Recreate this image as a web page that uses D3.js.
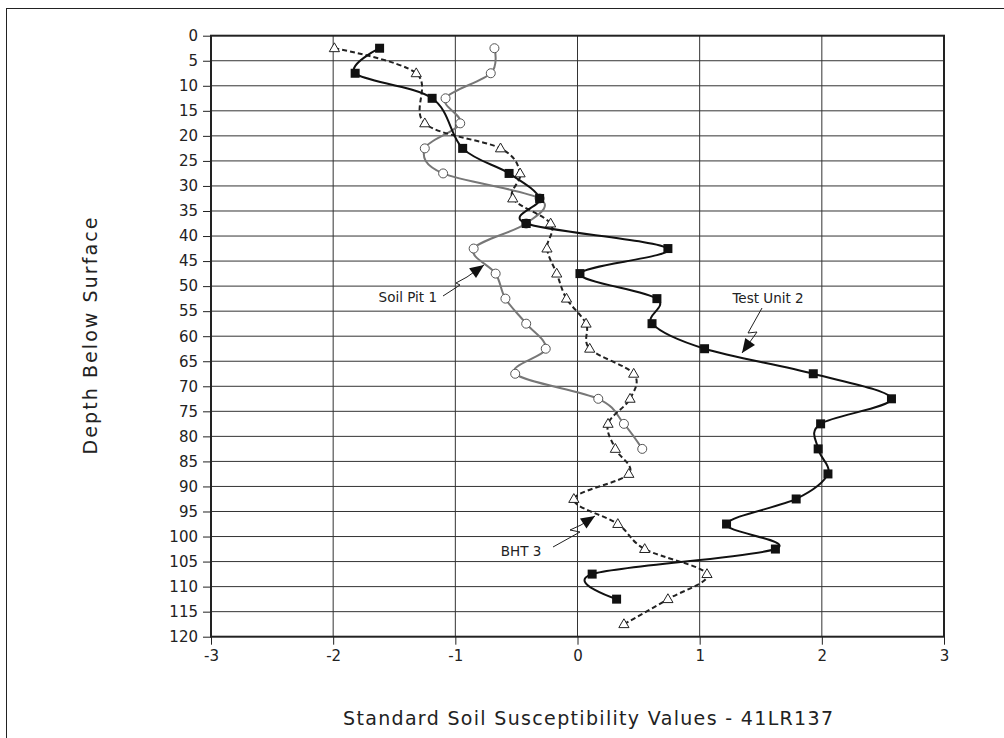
<!DOCTYPE html>
<html>
<head>
<meta charset="utf-8">
<script src="https://cdn.jsdelivr.net/npm/d3@7"></script>
<style>
  body { margin: 0; background: #fff; }
  svg { display: block; font-family: "DejaVu Sans", sans-serif; }
</style>
</head>
<body>
<svg id="chart" width="1004" height="738"></svg>
<script>
(function(){
  // depths (cm below surface) and susceptibility values per series
  const soilPitDepth = [2.5,7.5,12.5,17.5,22.5,27.5,32.5,37.5,42.5,47.5,52.5,57.5,62.5,67.5,72.5,77.5,82.5];
  const soilPitValue = [-0.68,-0.71,-1.08,-0.96,-1.25,-1.10,-0.31,-0.42,-0.85,-0.67,-0.59,-0.42,-0.26,-0.51,0.17,0.38,0.53];

  const bhtDepth = [2.5,7.5,17.5,22.5,27.5,32.5,37.5,42.5,47.5,52.5,57.5,62.5,67.5,72.5,77.5,82.5,87.5,92.5,97.5,102.5,107.5,112.5,117.5];
  const bhtValue = [-1.99,-1.32,-1.25,-0.63,-0.47,-0.53,-0.22,-0.25,-0.17,-0.09,0.07,0.10,0.46,0.43,0.25,0.31,0.42,-0.03,0.33,0.55,1.06,0.74,0.38];

  const testUnitDepth = [2.5,7.5,12.5,22.5,27.5,32.5,37.5,42.5,47.5,52.5,57.5,62.5,67.5,72.5,77.5,82.5,87.5,92.5,97.5,102.5,107.5,112.5];
  const testUnitValue = [-1.62,-1.82,-1.19,-0.94,-0.56,-0.31,-0.42,0.74,0.02,0.65,0.61,1.04,1.93,2.57,1.99,1.97,2.05,1.79,1.22,1.62,0.12,0.32];

  const xTicks = [-3,-2,-1,0,1,2,3];
  const yTicks = d3.range(0, 121, 5);

  const left = 211, right = 944, top = 35.7, bottom = 636.7;

  const svg = d3.select("#chart");

  // outer frame
  svg.append("rect")
    .attr("x", 6.5).attr("y", 8.5)
    .attr("width", 1010).attr("height", 740)
    .attr("fill", "none").attr("stroke", "#222").attr("stroke-width", 1);

  const x = d3.scaleLinear().domain([-3, 3]).range([left, right]);
  const y = d3.scaleLinear().domain([0, 120]).range([top, bottom]);

  // gridlines
  svg.append("g").selectAll("line")
    .data(yTicks.slice(1, -1))
    .join("line")
    .attr("x1", left).attr("x2", right)
    .attr("y1", d => y(d)).attr("y2", d => y(d))
    .attr("stroke", "#333").attr("stroke-width", 1);

  svg.append("g").selectAll("line")
    .data(xTicks.slice(1, -1))
    .join("line")
    .attr("x1", d => x(d)).attr("x2", d => x(d))
    .attr("y1", top).attr("y2", bottom)
    .attr("stroke", "#333").attr("stroke-width", 1);

  // plot border
  svg.append("rect")
    .attr("x", left).attr("y", top)
    .attr("width", right - left).attr("height", bottom - top)
    .attr("fill", "none").attr("stroke", "#222").attr("stroke-width", 2);

  // axes
  const yAxis = d3.axisLeft(y).tickValues(yTicks).tickSize(8).tickPadding(5);
  const gy = svg.append("g").attr("transform", `translate(${left},0)`).call(yAxis);
  const xAxis = d3.axisBottom(x).tickValues(xTicks).tickSize(8).tickPadding(6)
    .tickFormat(d => String(d));
  const gx = svg.append("g").attr("transform", `translate(0,${bottom})`).call(xAxis);
  [gx, gy].forEach(g => {
    g.select(".domain").remove();
    g.selectAll(".tick line").attr("stroke", "#222");
    g.selectAll(".tick text").attr("fill", "#222")
      .style("font-family", "'DejaVu Sans', sans-serif").style("font-size", "15px");
  });

  const line = d3.line()
    .x(d => x(d[1]))
    .y(d => y(d[0]))
    .curve(d3.curveCardinal.tension(0));

  const soilPit = d3.zip(soilPitDepth, soilPitValue);
  const bht = d3.zip(bhtDepth, bhtValue);
  const testUnit = d3.zip(testUnitDepth, testUnitValue);

  // Soil Pit 1
  svg.append("path").datum(soilPit)
    .attr("d", line).attr("fill", "none")
    .attr("stroke", "#777").attr("stroke-width", 2);
  svg.append("g").selectAll("circle").data(soilPit).join("circle")
    .attr("cx", d => x(d[1])).attr("cy", d => y(d[0])).attr("r", 4.5)
    .attr("fill", "#fff").attr("stroke", "#555").attr("stroke-width", 1);

  // BHT 3
  svg.append("path").datum(bht)
    .attr("d", line).attr("fill", "none")
    .attr("stroke", "#222").attr("stroke-width", 2)
    .attr("stroke-dasharray", "5,3");
  const tri = d3.symbol().type(d3.symbolTriangle).size(45);
  svg.append("g").selectAll("path").data(bht).join("path")
    .attr("d", tri)
    .attr("transform", d => `translate(${x(d[1])},${y(d[0]) + 0.5})`)
    .attr("fill", "#fff").attr("stroke", "#222").attr("stroke-width", 1);

  // Test Unit 2
  svg.append("path").datum(testUnit)
    .attr("d", line).attr("fill", "none")
    .attr("stroke", "#111").attr("stroke-width", 2);
  svg.append("g").selectAll("rect").data(testUnit).join("rect")
    .attr("x", d => x(d[1]) - 4.5).attr("y", d => y(d[0]) - 4.5)
    .attr("width", 9).attr("height", 9)
    .attr("fill", "#111");

  // callouts
  const callouts = [
    { label: "Soil Pit 1", tx: 437, ty: 302, anchor: "end",
      pts: [[443,296],[460,285],[456,283],[467,277]], tip: [484,265] },
    { label: "Test Unit 2", tx: 768, ty: 303, anchor: "middle",
      pts: [[762,308],[748,333],[757,332]], tip: [742,353] },
    { label: "BHT 3", tx: 521, ty: 556, anchor: "middle",
      pts: [[553,547],[580,532],[570,530],[581,525]], tip: [595,516] }
  ];
  callouts.forEach(c => {
    svg.append("text")
      .attr("x", c.tx).attr("y", c.ty)
      .attr("text-anchor", c.anchor)
      .style("font-size", "13.5px").attr("fill", "#222")
      .text(c.label);
    svg.append("path")
      .attr("d", d3.line()(c.pts.concat([c.tip])))
      .attr("fill", "none").attr("stroke", "#222").attr("stroke-width", 1);
    const last = c.pts[c.pts.length - 1];
    const ang = Math.atan2(c.tip[1] - last[1], c.tip[0] - last[0]);
    const len = 14, half = 6;
    const bx = c.tip[0] - len * Math.cos(ang), by = c.tip[1] - len * Math.sin(ang);
    const nx = -Math.sin(ang), ny = Math.cos(ang);
    svg.append("path")
      .attr("d", d3.line()([c.tip, [bx + nx * half, by + ny * half], [bx - nx * half, by - ny * half]]) + "Z")
      .attr("fill", "#111");
  });

  // axis titles
  svg.append("text")
    .attr("x", 588).attr("y", 725)
    .attr("text-anchor", "middle")
    .attr("textLength", 490).attr("lengthAdjust", "spacing")
    .style("font-size", "19px").attr("fill", "#222")
    .text("Standard Soil Susceptibility Values - 41LR137");

  svg.append("text")
    .attr("transform", "translate(97,336) rotate(-90)")
    .attr("text-anchor", "middle")
    .attr("textLength", 237).attr("lengthAdjust", "spacing")
    .style("font-size", "19px").attr("fill", "#222")
    .text("Depth Below Surface");
})();
</script>
</body>
</html>
